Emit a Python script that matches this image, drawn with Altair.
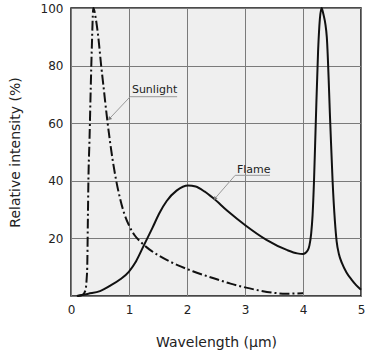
import altair as alt
import pandas as pd

# Sunlight spectrum (dash-dot line)
sun_x = [0.12, 0.2, 0.25, 0.27, 0.28, 0.29, 0.30, 0.32, 0.34, 0.36, 0.385, 0.43, 0.47, 0.52, 0.57,
         0.62, 0.67, 0.72, 0.78, 0.85, 0.92, 1.0, 1.1, 1.2, 1.35, 1.5, 1.7, 1.9, 2.1, 2.3, 2.5,
         2.75, 3.0, 3.25, 3.5, 3.7, 4.0]
sun_y = [0, 0.4, 2, 6, 10, 25, 40, 55, 72, 87, 100, 96, 90, 80, 71,
         62, 54, 47, 40, 33.5, 28.5, 24.5, 21, 18.8, 16.2, 14.2, 12, 10.2, 8.6, 7.2, 5.9,
         4.3, 3.0, 1.9, 1.1, 0.8, 1.0]

# Flame spectrum (solid line)
flame_x = [0.1, 0.3, 0.5, 0.67, 0.85, 1.0, 1.12, 1.25, 1.4, 1.53, 1.65, 1.82, 2.02, 2.15, 2.3, 2.45,
           2.7, 3.01, 3.37, 3.72, 3.9, 4.0, 4.08, 4.11, 4.14, 4.165, 4.19, 4.22, 4.26, 4.29, 4.32,
           4.35, 4.41, 4.47, 4.51, 4.55, 4.58, 4.62, 4.67, 4.75, 4.84, 4.92, 5.0]
flame_y = [0, 0.8, 1.7, 3.5, 5.8, 8.5, 12, 17.3, 23.5, 29, 33, 36.6, 38.4, 38, 36.3, 34,
           29.5, 24.5, 19.5, 16, 14.8, 14.6, 15.8, 17.5, 21.5, 28, 40, 60, 85, 96, 100,
           98, 90, 60, 40, 26, 19, 14.5, 11.5, 8.2, 5.6, 3.7, 2.2]

# Annotation labels
label_text = ["Sunlight", "Flame"]
label_x = [1.05, 2.86]
label_y = [71.5, 43.9]

# Leader lines (x, y, x2, y2)
lead_x = [1.02, 1.02, 2.83, 2.83]
lead_y = [69.2, 69.2, 41.9, 41.9]
lead_x2 = [1.83, 0.66, 3.43, 2.48]
lead_y2 = [69.2, 61.5, 41.9, 33.8]

# Arrow heads
arrow_x = [0.66, 2.48]
arrow_y = [61.5, 33.8]
arrow_angle = [223, 221]

# Axis ticks
x_ticks = [0, 1, 2, 3, 4, 5]
y_grid = list(range(0, 101, 10))

sun = pd.DataFrame({"x": sun_x, "y": sun_y})
flame = pd.DataFrame({"x": flame_x, "y": flame_y})
labels = pd.DataFrame({"t": label_text, "x": label_x, "y": label_y})
leads = pd.DataFrame({"x": lead_x, "y": lead_y, "x2": lead_x2, "y2": lead_y2})
arrows = pd.DataFrame({"x": arrow_x, "y": arrow_y, "a": arrow_angle})

FONT = "DejaVu Sans"

xscale = alt.Scale(domain=[0, 5], nice=False)
yscale = alt.Scale(domain=[0, 100], nice=False)

xaxis = alt.Axis(values=x_ticks, format="d", title="Wavelength (µm)", grid=True, gridColor="#7a7a7a",
                 gridWidth=1, ticks=False, domain=False, labelFont=FONT, labelFontSize=12,
                 labelColor="#222222", labelPadding=8, titleFont=FONT, titleFontSize=14,
                 titleFontWeight="normal", titleColor="#222222", titlePadding=20, labelFlush=False)
yaxis = alt.Axis(values=y_grid, title="Relative intensity (%)", grid=True,
                 gridColor="#7a7a7a", gridWidth=1, ticks=False, domain=False,
                 labelExpr="datum.value % 20 == 0 && datum.value > 0 ? datum.label : ''",
                 labelFont=FONT, labelFontSize=12, labelColor="#222222", labelPadding=8,
                 titleFont=FONT, titleFontSize=14, titleFontWeight="normal", titleColor="#222222",
                 titlePadding=18, labelFlush=False)

base_sun = alt.Chart(sun).mark_line(color="#111111", strokeWidth=2, strokeDash=[10, 3, 2, 3],
                                    interpolate="monotone").encode(
    x=alt.X("x:Q", scale=xscale, axis=xaxis),
    y=alt.Y("y:Q", scale=yscale, axis=yaxis),
)
flame_line = alt.Chart(flame).mark_line(color="#111111", strokeWidth=2, interpolate="monotone").encode(
    x=alt.X("x:Q", scale=xscale),
    y=alt.Y("y:Q", scale=yscale),
)
lead_rules = alt.Chart(leads).mark_rule(color="#999999", strokeWidth=1).encode(
    x=alt.X("x:Q", scale=xscale), y=alt.Y("y:Q", scale=yscale), x2="x2:Q", y2="y2:Q"
)
arrow_pts = alt.Chart(arrows).mark_point(shape="triangle-up", filled=True, color="#777777",
                                         size=18, opacity=1).encode(
    x=alt.X("x:Q", scale=xscale), y=alt.Y("y:Q", scale=yscale), angle=alt.Angle("a:Q", scale=None)
)
text = alt.Chart(labels).mark_text(align="left", baseline="middle", font=FONT, fontSize=11,
                                   color="#222222").encode(
    x=alt.X("x:Q", scale=xscale), y=alt.Y("y:Q", scale=yscale), text="t:N"
)

chart = alt.layer(base_sun, flame_line, lead_rules, arrow_pts, text).properties(
    width=290, height=288,
    autosize=alt.AutoSizeParams(type="none"),
    padding={"left": 71, "top": 8, "right": 9, "bottom": 59},
    background="white",
).configure_view(fill="#efefef", stroke="#111111", strokeWidth=1.5)

chart.save("out.html", embed_options={"renderer": "svg", "actions": False})
